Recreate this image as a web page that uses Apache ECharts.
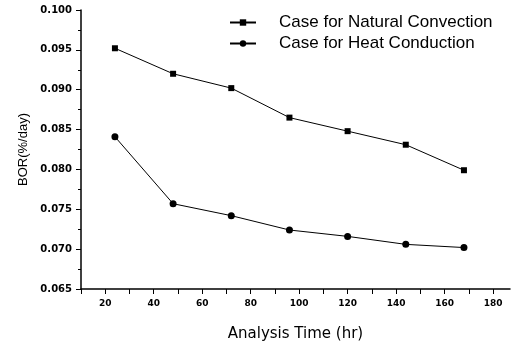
<!DOCTYPE html>
<html>
<head>
<meta charset="utf-8">
<script src="https://cdn.jsdelivr.net/npm/echarts@6/dist/echarts.min.js"></script>
<style>
  html, body { margin: 0; padding: 0; background: #fff; }
  #chart { width: 518px; height: 349px; }
</style>
</head>
<body>
<div id="chart"></div>
<script>
// analysis time (hr)
const times = [24, 48, 72, 96, 120, 144, 168];
// BOR (%/day)
const naturalConvection = [0.0952, 0.0920, 0.0902, 0.0865, 0.0848, 0.0831, 0.0799];
const heatConduction = [0.0841, 0.0757, 0.0742, 0.0724, 0.0716, 0.0706, 0.0702];
const seriesNames = ["Case for Natural Convection", "Case for Heat Conduction"];

const chart = echarts.init(document.getElementById("chart"));

function pairs(ys) {
  return times.map((t, i) => [t, ys[i]]);
}

const axisCommon = {
  axisLine: { show: true, lineStyle: { color: "#000", width: 1.5 } },
  axisTick: { show: true, inside: false, length: 5, lineStyle: { color: "#000" } },
  splitLine: { show: false },
  minorTick: { show: true, splitNumber: 2, length: 3, lineStyle: { color: "#000" } },
};

chart.setOption({
  animation: false,
  backgroundColor: "#fff",
  grid: { left: 81, right: 8, top: 10, bottom: 60 },
  legend: {
    orient: "vertical",
    left: 224,
    top: 9,
    itemWidth: 26,
    itemHeight: 8,
    itemGap: 4,
    textStyle: { color: "#000", fontFamily: "Arial", fontSize: 17, padding: [0, 0, 0, 18] },
    data: seriesNames,
  },
  xAxis: {
    ...axisCommon,
    type: "value",
    min: 10,
    max: 187,
    interval: 10,
    name: "Analysis Time (hr)",
    nameLocation: "middle",
    nameGap: 38,
    nameTextStyle: { color: "#000", fontFamily: "DejaVu Sans", fontSize: 15 },
    minorTick: { show: false },
    axisLabel: {
      color: "#000",
      fontFamily: "DejaVu Sans",
      fontWeight: "bold",
      fontSize: 9,
      margin: 10,
      showMaxLabel: false,
      formatter: (v) => (v % 20 === 0 ? String(v) : ""),
    },
  },
  yAxis: {
    ...axisCommon,
    type: "value",
    min: 0.065,
    max: 0.1,
    interval: 0.005,
    name: "BOR(%/day)",
    nameLocation: "middle",
    nameGap: 50,
    nameTextStyle: { color: "#000", fontFamily: "Arial", fontSize: 13 },
    axisLabel: {
      color: "#000",
      fontFamily: "DejaVu Sans",
      fontWeight: "bold",
      fontSize: 10,
      margin: 9,
      formatter: (v) => v.toFixed(3),
    },
  },
  series: [
    {
      name: seriesNames[0],
      type: "line",
      data: pairs(naturalConvection),
      symbol: "rect",
      symbolSize: 6,
      lineStyle: { color: "#000", width: 1 },
      itemStyle: { color: "#000" },
    },
    {
      name: seriesNames[1],
      type: "line",
      data: pairs(heatConduction),
      symbol: "circle",
      symbolSize: 7,
      lineStyle: { color: "#000", width: 1 },
      itemStyle: { color: "#000" },
    },
  ],
});
</script>
</body>
</html>
